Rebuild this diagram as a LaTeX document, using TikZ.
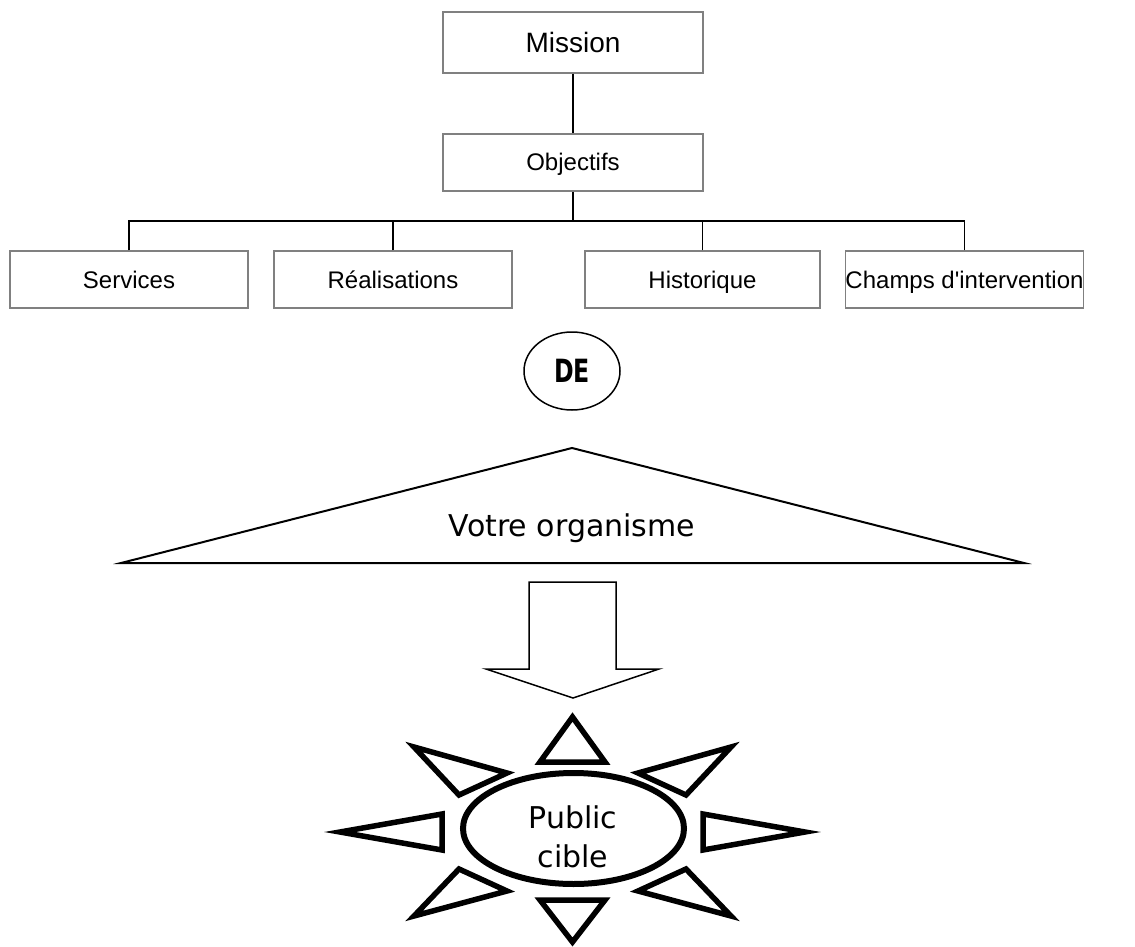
\documentclass[tikz,border=0pt]{standalone}
\usepackage{fontspec}
\setmainfont{Liberation Sans}[Ligatures=TeXOff]
\newfontfamily\dejavu{DejaVu Sans}
\usetikzlibrary{shapes.geometric}
\tikzset{
  orgbox/.style={draw=black!50, line width=1.5pt, fill=white, inner sep=0pt, text height=17pt, text depth=0pt, font=\fontsize{24}{28}\selectfont},
  conn/.style={draw=black, line width=1.5pt},
  ray/.style={draw=black, line width=5.5pt, line join=miter},
}
\begin{document}
\begin{tikzpicture}[x=1pt,y=-1pt]
\useasboundingbox (0,0) rectangle (1135,947);
% hierarchy
\node[orgbox, minimum width=260, minimum height=61, text height=20pt, font=\fontsize{28}{32}\selectfont] (mission) at (573,42.5) {Mission};
\node[orgbox, minimum width=260, minimum height=57] (obj) at (573,162.5) {Objectifs};
\node[orgbox, minimum width=238, minimum height=57] (serv) at (129,279.5) {Services};
\node[orgbox, minimum width=238, minimum height=57] (real) at (393,279.5) {Réalisations};
\node[orgbox, minimum width=235, minimum height=57] (hist) at (702.5,279.5) {Historique};
\node[orgbox, minimum width=235, minimum height=57] (champ) at (964.5,279.5) {Champs d'intervention};
\coordinate (bar) at (573,221);
\draw[conn] (mission.south) -- (obj.north);
\draw[conn] (obj.south) -- (bar);
\draw[conn] (serv.north) |- (bar);
\draw[conn] (real.north) |- (bar);
\draw[conn] (hist.north) |- (bar);
\draw[conn] (champ.north) |- (bar);
% DE
\node[draw=black, line width=1.5pt, ellipse, minimum width=96, minimum height=78, inner sep=0pt] (de) at (572,371)
  {\scalebox{0.74}[1]{\dejavu\bfseries\fontsize{32}{36}\selectfont DE}};
% triangle
\draw[line width=2pt, line join=miter] (121,563) -- (572,448) -- (1024,563) -- cycle;
\node[font=\dejavu\fontsize{30}{34}\selectfont, anchor=base] (org) at (572,536) {Votre organisme};
% big arrow
\draw[line width=1.5pt, line join=miter] (529,582) -- (616,582) -- (616,669) -- (659,669) -- (573,698) -- (486,669) -- (529,669) -- cycle;
% sun
\draw[ray] (572.5,717) -- (540,762) -- (605,762) -- cycle;
\draw[ray] (572.5,942) -- (540,900) -- (605,900) -- cycle;
\draw[ray] (340,832) -- (442,814) -- (442,850) -- cycle;
\draw[ray] (805,832) -- (703,814) -- (703,850) -- cycle;
\draw[ray] (414,747) -- (507,773) -- (459,795) -- cycle;
\draw[ray] (731,747) -- (638,773) -- (686,795) -- cycle;
\draw[ray] (414,916) -- (507,891) -- (459,869) -- cycle;
\draw[ray] (731,916) -- (638,891) -- (686,869) -- cycle;
\node[draw=black, line width=6pt, ellipse, minimum width=221, minimum height=111, inner sep=0pt] (pub) at (573.5,828.5) {};
\node[align=center, font=\dejavu\fontsize{30}{39}\selectfont] (pubtxt) at (573,837) {Public\\cible};
\end{tikzpicture}
\end{document}
